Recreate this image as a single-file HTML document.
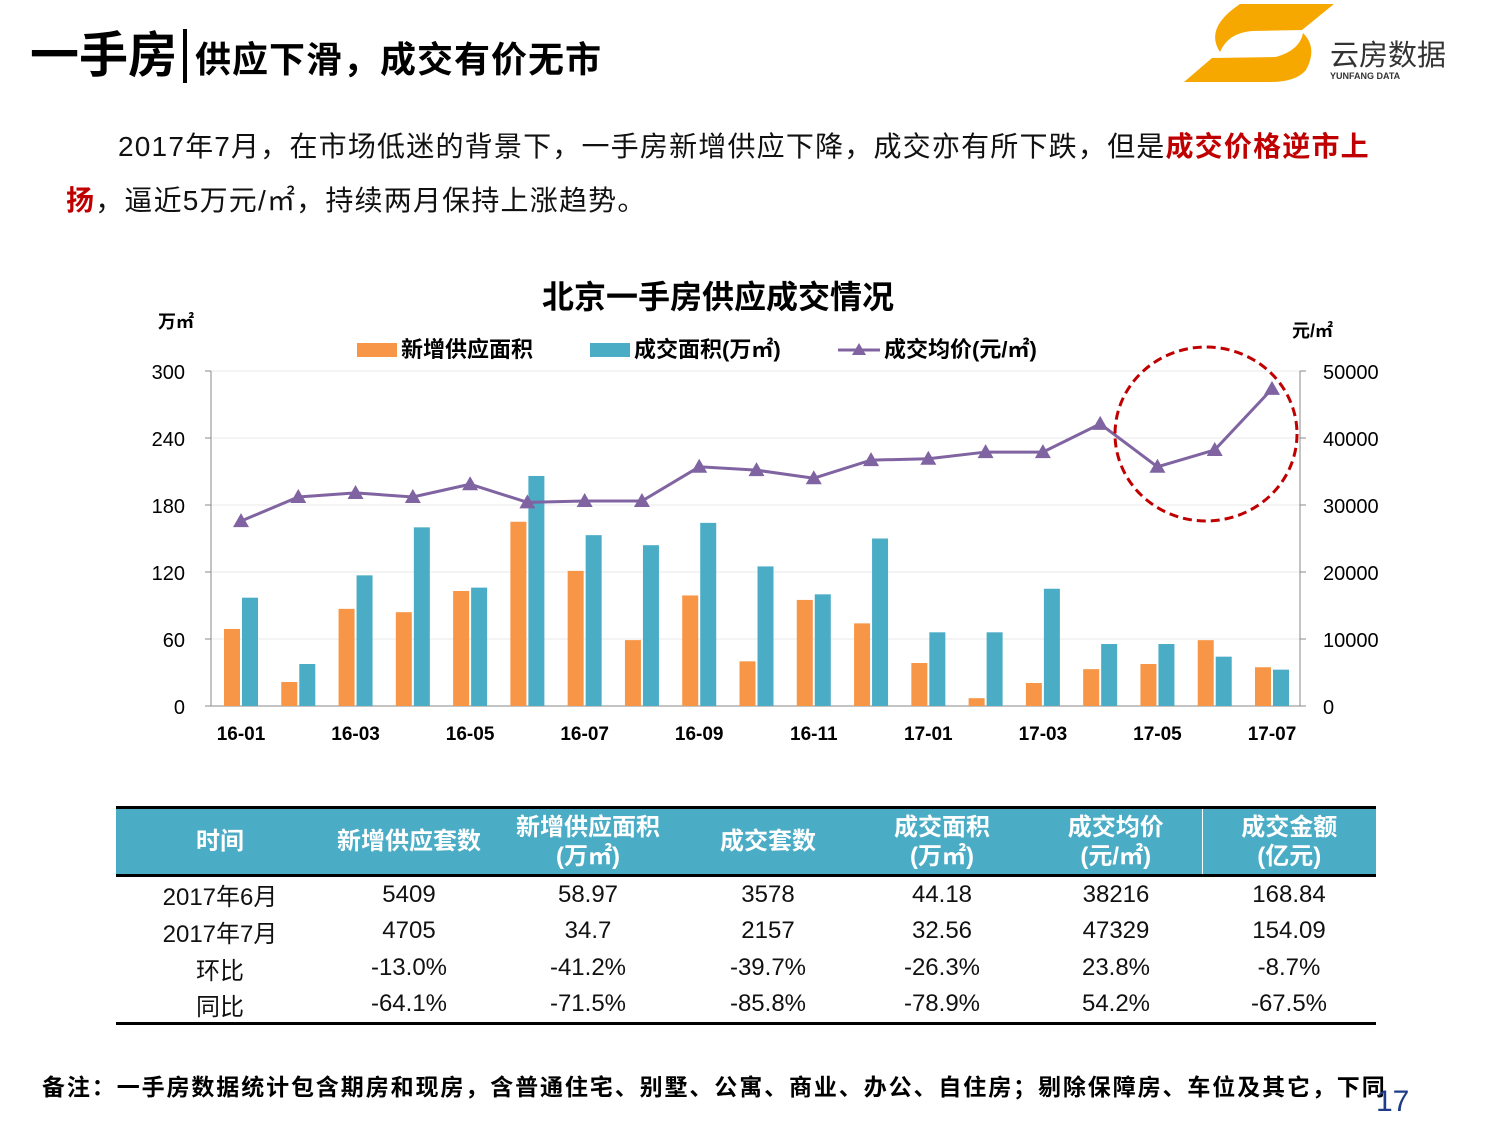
<!DOCTYPE html>
<html><head><meta charset="utf-8"><style>
body{margin:0;width:1500px;height:1125px;background:#fff;overflow:hidden;position:relative;font-family:"Liberation Sans","Noto Sans CJK SC",sans-serif;}
.abs{position:absolute;}
table{border-collapse:collapse;table-layout:fixed;}
td{padding:0;}
</style></head><body>
<div class="abs" style="left:30px;top:16px;font-size:49px;font-weight:bold;white-space:nowrap;">一手房<span style="border-left:4px solid #000;margin:0 8px 0 6px"></span><span style="font-size:36px;letter-spacing:1px">供应下滑，成交有价无市</span></div>
<svg class="abs" style="left:0;top:0" width="1500" height="100">
<path d="M1240,4 L1334,4 L1302,30 L1252,31 Q1228,33 1220,52 Q1204,28 1240,4 Z" fill="#f6a800"/>
<path d="M1303,33 Q1318,48 1306,70 Q1296,82 1270,82 L1184,82 L1212,58 L1276,57 Q1300,50 1303,33 Z" fill="#f6a800"/>
<text x="1330" y="65" font-size="29" fill="#333" font-family="Noto Sans CJK SC, sans-serif">云房数据</text>
<text x="1330" y="79" font-size="9" fill="#333" font-weight="bold">YUNFANG DATA</text>
</svg>
<div class="abs" style="left:66px;top:120px;width:1330px;font-size:28px;line-height:54px;color:#111;text-indent:52px;letter-spacing:1.2px">2017年7月，在市场低迷的背景下，一手房新增供应下降，成交亦有所下跌，但是<b style="color:#c00000">成交价格逆市上扬</b>，逼近5万元/㎡，持续两月保持上涨趋势。</div>

<svg id="chart" class="abs" style="left:0;top:260px" width="1500" height="520"></svg>

<table class="abs" style="left:116px;top:806px;width:1260px;font-size:24px;text-align:center;color:#111">
<colgroup><col style="width:208px"><col style="width:170px"><col style="width:188px"><col style="width:172px"><col style="width:176px"><col style="width:172px"><col style="width:174px"></colgroup>
<tr style="background:#4bacc6;color:#fff;font-weight:bold;height:68px;line-height:29px;border-top:3px solid #000;border-bottom:3px solid #000">
<td>时间</td><td>新增供应套数</td><td>新增供应面积<br>(万㎡)</td><td>成交套数</td><td>成交面积<br>(万㎡)</td><td>成交均价<br>(元/㎡)</td><td style="border-left:1px solid #fff">成交金额<br>(亿元)</td></tr>
<tr style="height:37px"><td>2017年6月</td><td>5409</td><td>58.97</td><td>3578</td><td>44.18</td><td>38216</td><td>168.84</td></tr>
<tr style="height:37px"><td>2017年7月</td><td>4705</td><td>34.7</td><td>2157</td><td>32.56</td><td>47329</td><td>154.09</td></tr>
<tr style="height:37px"><td>环比</td><td>-13.0%</td><td>-41.2%</td><td>-39.7%</td><td>-26.3%</td><td>23.8%</td><td>-8.7%</td></tr>
<tr style="height:37px;border-bottom:3px solid #000"><td>同比</td><td>-64.1%</td><td>-71.5%</td><td>-85.8%</td><td>-78.9%</td><td>54.2%</td><td>-67.5%</td></tr>
</table>
<div class="abs" style="left:42px;top:1068px;font-size:23px;font-weight:bold;white-space:nowrap;letter-spacing:1.9px">备注：一手房数据统计包含期房和现房，含普通住宅、别墅、公寓、商业、办公、自住房；剔除保障房、车位及其它，下同</div>
<div class="abs" style="left:1376px;top:1085px;font-size:30px;color:#1f3c88">17</div>

<script>
const months=["16-01","16-02","16-03","16-04","16-05","16-06","16-07","16-08","16-09","16-10","16-11","16-12","17-01","17-02","17-03","17-04","17-05","17-06","17-07"];
const supply=[69,21.5,87,84,103,165,121,59,99,40,95,74,38.5,7,20.6,33,37.6,58.97,34.7];
const deals=[97,37.6,117,160,106,206,153,144,164,125,100,150,66,66,105,55.5,55.5,44.18,32.56];
const price=[27600,31200,31800,31200,33100,30400,30600,30600,35700,35200,34000,36700,36900,37900,37900,42100,35700,38216,47329];
const leftTicks=[0,60,120,180,240,300];
const rightTicks=[0,10000,20000,30000,40000,50000];
const NS="http://www.w3.org/2000/svg";
const svg=document.getElementById('chart');
const OY=260, top0=371-OY, bot0=706-OY, x0=211, x1=1300;
const xc=i=>241+i*(1272-241)/(months.length-1);
const yl=v=>bot0-(v/300)*(bot0-top0);
const yr=v=>bot0-(v/50000)*(bot0-top0);
function mk(tag,a,parent){const e=document.createElementNS(NS,tag);for(const k in a)e.setAttribute(k,a[k]);(parent||svg).appendChild(e);return e;}
function txt(x,y,s,a,parent){const e=mk('text',Object.assign({x:x,y:y},a),parent);e.textContent=s;return e;}
const t1=txt(718,48,"北京一手房供应成交情况",{'font-size':32,'font-weight':'bold','text-anchor':'middle'});

const u1=txt(158,68,"万㎡",{'font-size':18,'font-weight':'bold'});

const u2=txt(1292,77,"元/㎡",{'font-size':18,'font-weight':'bold'});

const lg=mk('g',{});

mk('rect',{x:357,y:83,width:40,height:14,fill:'#f79646'},lg);
txt(401,97,"新增供应面积",{'font-size':22,'font-weight':'bold'},lg);
mk('rect',{x:590,y:83,width:40,height:14,fill:'#4bacc6'},lg);
txt(634,97,"成交面积(万㎡)",{'font-size':22,'font-weight':'bold'},lg);
mk('line',{x1:838,y1:90,x2:880,y2:90,stroke:'#8064a2','stroke-width':3},lg);
mk('polygon',{points:'859,83 866,95 852,95',fill:'#8064a2'},lg);
txt(884,97,"成交均价(元/㎡)",{'font-size':22,'font-weight':'bold'},lg);
leftTicks.forEach((v,i)=>{
 const y=yl(v);
 if(v>0){const g=mk('line',{x1:x0,y1:y,x2:x1,y2:y,stroke:'#e8e8e8','stroke-width':1});}
 mk('line',{x1:x0-6,y1:y,x2:x0,y2:y,stroke:'#888'});
 const t=txt(185,y+8,String(v),{'font-size':20,'text-anchor':'end'});
 
});
rightTicks.forEach(v=>{
 const y=yr(v);
 mk('line',{x1:x1,y1:y,x2:x1+6,y2:y,stroke:'#888'});
 const t=txt(1323,y+8,String(v),{'font-size':20});
 
});
mk('line',{x1:x0,y1:top0,x2:x0,y2:bot0,stroke:'#888'});
mk('line',{x1:x1,y1:top0,x2:x1,y2:bot0,stroke:'#888'});
mk('line',{x1:x0,y1:bot0,x2:x1,y2:bot0,stroke:'#888'});
months.forEach((m,i)=>{
 const x=xc(i);
 const b1=mk('rect',{x:x-17,y:yl(supply[i]),width:16,height:bot0-yl(supply[i]),fill:'#f79646'});
 
 const b2=mk('rect',{x:x+1,y:yl(deals[i]),width:16,height:bot0-yl(deals[i]),fill:'#4bacc6'});
 
 if(i%2===0){const t=txt(x,bot0+34,m,{'font-size':19,'font-weight':'bold','text-anchor':'middle'});
 }
});
const pl=mk('polyline',{points:price.map((v,i)=>xc(i)+','+yr(v)).join(' '),fill:'none',stroke:'#8064a2','stroke-width':3});

price.forEach((v,i)=>{const x=xc(i),y=yr(v);
 const p=mk('polygon',{points:`${x},${y-8} ${x+8},${y+6} ${x-8},${y+6}`,fill:'#8064a2'});
 });
const c=mk('ellipse',{cx:1206,cy:434-OY,rx:91,ry:87,fill:'none',stroke:'#c00000','stroke-width':3,'stroke-dasharray':'9,5'});

</script>
</body></html>
